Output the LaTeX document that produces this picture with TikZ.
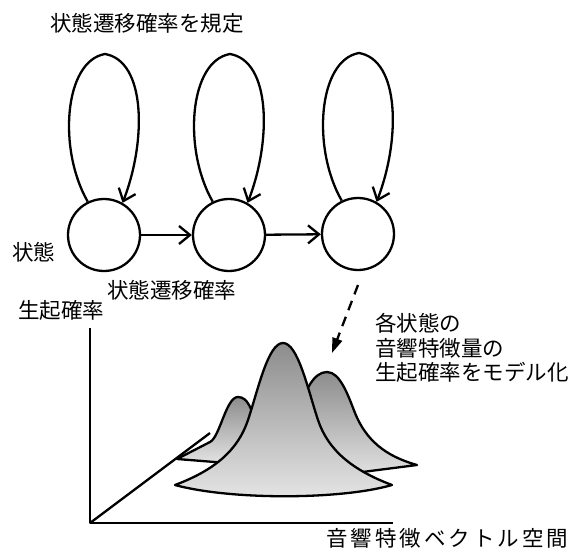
\documentclass[tikz,border=0pt]{standalone}
\usepackage{fontspec}
\setmainfont{Noto Sans CJK JP}
\newfontfamily\jpwide{Noto Sans CJK JP}[LetterSpace=14]
\usetikzlibrary{arrows.meta,calc}
\tikzset{
  state/.style={circle,draw,line width=2.3pt,minimum size=72pt,inner sep=0pt},
  lbl/.style={anchor=west,inner sep=0pt,font=\fontsize{21.5}{24.5}\selectfont},
  ln/.style={line width=2.3pt},
  barb/.style={-{Straight Barb[length=11pt,width=18pt,line width=2.3pt]}},
  dist/.style={draw=black,line width=2.3pt,top color=black!45,bottom color=black!10},
}
\begin{document}
\begin{tikzpicture}[x=1pt,y=-1pt,line join=round]
\useasboundingbox (0,0) rectangle (574,554);

% states
\node[state] (c1) at (104,235) {};
\node[state] (c2) at (229,235) {};
\node[state] (c3) at (358,234) {};

% self loops
\foreach \c in {c1,c2,c3}{
  \coordinate (t\c) at ($(\c)+(1,-181)$);
  \draw[ln,barb] (\c.116) .. controls +(-30,-52) and +(-41,7) .. (t\c)
                 .. controls +(41,7) and +(24,-62) .. (\c.60);
}
% transitions
\draw[ln,barb] (c1) -- (c2);
\draw[ln,barb] (c2) -- (c3);

% labels
\node[lbl] (ltop) at (50,23) {状態遷移確率を規定};
\node[lbl] (lstate) at (12,252) {状態};
\node[lbl] (ltrans) at (107,290) {状態遷移確率};
\node[lbl] (lprob) at (18,310) {生起確率};
\node[lbl,font=\fontsize{21.5}{24.5}\jpwide] (lspace) at (326,538) {音響特徴ベクトル空間};
\node[lbl,align=left] (lmodel) at (375,348) {各状態の\\音響特徴量の\\生起確率をモデル化};

% axes
\coordinate (O) at (90,523);
\coordinate (Y) at (90,328);
\coordinate (X) at (393,523);
\coordinate (Z) at (210,433);
\draw[ln] (Y) -- (O) -- (X);
\draw[ln] (O) -- (Z);

% back-left distribution
\shade[dist] (177,459) -- (210,442) .. controls (220,437) and (226,397) .. (238,397)
  .. controls (248,397) and (252,410) .. (256,425) -- (252,465) -- cycle;
% back-right distribution
\shade[dist] (300,480) -- (300,410) .. controls (305,390) and (314,372) .. (327,372)
  .. controls (340,372) and (348,395) .. (355,413)
  .. controls (366,440) and (385,456) .. (417,465) -- cycle;
% front distribution
\shade[dist] (175,485) .. controls (215,470) and (238,450) .. (248,420)
  .. controls (258,390) and (268,343) .. (283,343)
  .. controls (298,343) and (308,390) .. (318,420)
  .. controls (328,450) and (352,470) .. (392,485)
  .. controls (340,500) and (230,500) .. cycle;

% dashed pointer
\coordinate (ds) at (358,285);
\coordinate (de) at (332,353);
\draw[line width=2.3pt,dash pattern=on 10pt off 7pt,-{Triangle[length=15pt,width=10pt]}] (ds) -- (de);
\end{tikzpicture}
\end{document}
